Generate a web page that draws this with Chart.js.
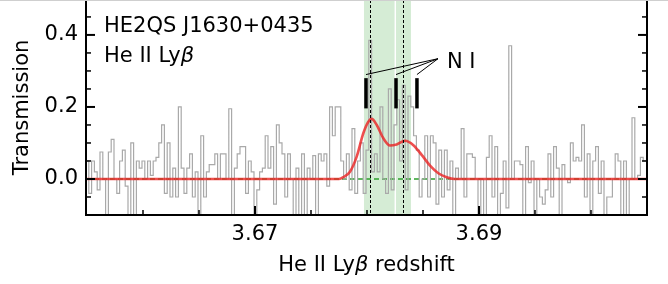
<!DOCTYPE html>
<html>
<head>
<meta charset="utf-8">
<script src="https://cdn.jsdelivr.net/npm/chart.js@4/dist/chart.umd.min.js"></script>
<style>
  html, body { margin: 0; padding: 0; background: #fff; }
  #wrap { width: 668px; height: 284px; position: relative; }
</style>
</head>
<body>
<div id="wrap"><canvas id="c"></canvas></div>
<script>
// spectrum binning (redshift of first bin edge, bin width)
const zStart = 3.654911;
const binWidth = 0.00025;

const transmission = [
  0.05, -0.04, 0.05, 0.02, -0.03, 0.075, 0.0, -0.1, 0.075, 0.11,
  0.0, -0.04, 0.05, 0.08, -0.02, -0.1, 0.1, -0.1, 0.05, 0.03,
  0.05, 0.0, 0.05, 0.01, 0.05, 0.06, 0.1, 0.15, -0.04, 0.1,
  -0.05, 0.03, -0.05, 0.2, 0.03, -0.04, 0.03, 0.07, -0.05, 0.02,
  -0.1, 0.12, -0.05, 0.02, 0.04, 0.04, 0.07, 0.0, 0.07, 0.07,
  0.0, 0.195, -0.1, 0.03, 0.07, 0.09, 0.09, -0.04, 0.05, 0.02,
  -0.1, -0.03, 0.02, 0.03, 0.12, 0.03, 0.09, -0.07, 0.15, 0.1,
  0.07, -0.05, 0.07, 0.0, -0.1, 0.03, -0.1, 0.07, -0.1, 0.03,
  0.0, 0.065, -0.1, 0.07, 0.05, 0.07, -0.02, 0.2, 0.12, 0.2,
  0.2, 0.05, 0.0, 0.07, -0.03, 0.14, -0.04, 0.05, 0.1, -0.04,
  0.08, 0.385, 0.02, 0.07, 0.02, 0.2, 0.0, -0.04, 0.25, -0.03,
  0.15, 0.22, 0.05, 0.26, -0.03, 0.23, 0.2, 0.12, 0.08, -0.05,
  0.0, 0.12, -0.05, 0.12, 0.1, -0.07, 0.08, -0.05, 0.08, -0.03,
  0.05, -0.1, 0.03, 0.0, 0.14, -0.05, 0.07, 0.07, 0.06, 0.0,
  -0.1, 0.0, -0.1, 0.06, 0.12, -0.05, 0.09, -0.1, -0.04, 0.05,
  -0.08, 0.37, 0.0, 0.05, 0.05, 0.04, -0.1, 0.09, -0.01, 0.05,
  -0.1, 0.0, -0.05, -0.07, -0.03, 0.07, -0.05, 0.09, 0.03, -0.1,
  0.04, 0.0, -0.01, 0.1, 0.05, 0.06, 0.05, 0.15, -0.05, 0.07,
  -0.1, 0.05, 0.09, -0.04, 0.05, -0.1, -0.05, -0.05, 0.0, 0.07,
  0.05, -0.1, 0.05, -0.1, 0.0, 0.17, 0.0, 0.01, 0.06, 0.05
];

// model curve
const modelZ = [3.6549, 3.6775, 3.67789, 3.67848, 3.67908, 3.67967, 3.68012, 3.68042, 3.68087,
  3.68146, 3.68205, 3.68265, 3.68339, 3.68414, 3.68488, 3.68563, 3.68637, 3.68711, 3.68786, 3.705];
const modelT = [0, 0, 0.005, 0.02, 0.062, 0.127, 0.159, 0.167, 0.15,
  0.113, 0.093, 0.096, 0.106, 0.094, 0.067, 0.037, 0.016, 0.005, 0, 0];

// shaded windows, line positions, N I marks
const spans = [[3.67973, 3.68246], [3.68259, 3.68393]];
const lineZ = [3.68027, 3.68321];
const niZ = [3.67991, 3.68259, 3.68446];

const xTicks = [3.67, 3.69];
const xMinor = [3.66, 3.665, 3.675, 3.68, 3.685, 3.695, 3.70];
const yTicks = [0.0, 0.2, 0.4];
const yMinor = [-0.05, 0.05, 0.1, 0.15, 0.25, 0.3, 0.35, 0.45];

const FONT = "'DejaVu Sans', sans-serif";
const FS = 21;

const histPts = transmission.map((v, i) => ({ x: zStart + i * binWidth, y: v }));
histPts.push({ x: zStart + transmission.length * binWidth, y: transmission[transmission.length - 1] });
const modelPts = modelZ.map((z, i) => ({ x: z, y: modelT[i] }));

// draw a run of [text, italic] pieces starting at x
function drawPieces(ctx, pieces, x, y) {
  pieces.forEach(([t, it]) => {
    ctx.font = (it ? 'italic ' : '') + FS + 'px ' + FONT;
    ctx.fillText(t, x, y);
    x += ctx.measureText(t).width;
  });
}
function piecesWidth(ctx, pieces) {
  let w = 0;
  pieces.forEach(([t, it]) => {
    ctx.font = (it ? 'italic ' : '') + FS + 'px ' + FONT;
    w += ctx.measureText(t).width;
  });
  return w;
}

const noPad = axis => {
  axis.paddingTop = 0;
  axis.paddingBottom = 0;
  axis.paddingLeft = 0;
  axis.paddingRight = 0;
};

const decor = {
  id: 'decor',
  beforeDatasetsDraw(chart) {
    const { ctx, chartArea: a, scales: { x, y } } = chart;
    ctx.save();
    ctx.fillStyle = 'rgba(44,160,44,0.2)';
    spans.forEach(([z0, z1]) => {
      const p0 = x.getPixelForValue(z0), p1 = x.getPixelForValue(z1);
      ctx.fillRect(p0, a.top, p1 - p0, a.bottom - a.top);
    });
    ctx.strokeStyle = '#2ca02c';
    ctx.lineWidth = 1.5;
    ctx.setLineDash([5, 3]);
    const y0 = y.getPixelForValue(0);
    ctx.beginPath();
    ctx.moveTo(a.left, y0);
    ctx.lineTo(a.right, y0);
    ctx.stroke();
    ctx.restore();
  },
  afterDatasetsDraw(chart) {
    const { ctx, chartArea: a, scales: { x, y } } = chart;
    ctx.save();

    // dashed vertical lines
    ctx.strokeStyle = '#000';
    ctx.lineWidth = 1;
    ctx.setLineDash([3, 2]);
    lineZ.forEach(z => {
      const px = Math.round(x.getPixelForValue(z)) + 0.5;
      ctx.beginPath();
      ctx.moveTo(px, a.top);
      ctx.lineTo(px, a.bottom);
      ctx.stroke();
    });
    ctx.setLineDash([]);

    // N I bars and pointer lines
    ctx.lineWidth = 3.5;
    niZ.forEach(z => {
      const px = x.getPixelForValue(z);
      ctx.beginPath();
      ctx.moveTo(px, y.getPixelForValue(0.196));
      ctx.lineTo(px, y.getPixelForValue(0.28));
      ctx.stroke();
    });
    ctx.lineWidth = 1;
    const ax = x.getPixelForValue(3.68634), ay = y.getPixelForValue(0.334);
    niZ.forEach(z => {
      ctx.beginPath();
      ctx.moveTo(ax, ay);
      ctx.lineTo(x.getPixelForValue(z), y.getPixelForValue(0.29));
      ctx.stroke();
    });
    ctx.fillStyle = '#000';
    ctx.textBaseline = 'middle';
    ctx.textAlign = 'left';
    ctx.font = FS + 'px ' + FONT;
    ctx.fillText('N I', x.getPixelForValue(3.68714), y.getPixelForValue(0.322));

    // labels in the corner
    ctx.fillText('HE2QS J1630+0435', a.left + 18, 27);
    drawPieces(ctx, [['He II Ly', false], ['β', true]], a.left + 18, 57);

    // axis titles
    const xl = [['He II Ly', false], ['β', true], [' redshift', false]];
    const xw = piecesWidth(ctx, xl);
    drawPieces(ctx, xl, (a.left + a.right) / 2 - xw / 2, 266);
    ctx.save();
    ctx.translate(23, (a.top + a.bottom) / 2);
    ctx.rotate(-Math.PI / 2);
    ctx.textAlign = 'center';
    ctx.font = FS + 'px ' + FONT;
    ctx.fillText('Transmission', 0, 0);
    ctx.restore();

    // spines
    ctx.strokeStyle = '#000';
    ctx.lineWidth = 2;
    ctx.beginPath();
    ctx.moveTo(a.left, a.top);
    ctx.lineTo(a.left, a.bottom);
    ctx.lineTo(a.right, a.bottom);
    ctx.lineTo(a.right, a.top);
    ctx.stroke();
    ctx.strokeStyle = '#cfcfcf';
    ctx.lineWidth = 1;
    ctx.beginPath();
    ctx.moveTo(0, 0.5);
    ctx.lineTo(chart.width, 0.5);
    ctx.stroke();

    // inward ticks
    ctx.strokeStyle = '#000';
    const tick = (x1, y1, x2, y2, w) => {
      ctx.lineWidth = w;
      ctx.beginPath();
      ctx.moveTo(x1, y1);
      ctx.lineTo(x2, y2);
      ctx.stroke();
    };
    yTicks.forEach(v => {
      const py = y.getPixelForValue(v);
      tick(a.left, py, a.left + 9, py, 2);
      tick(a.right, py, a.right - 9, py, 2);
    });
    yMinor.forEach(v => {
      const py = y.getPixelForValue(v);
      tick(a.left, py, a.left + 5, py, 1.5);
      tick(a.right, py, a.right - 5, py, 1.5);
    });
    xTicks.forEach(v => {
      const px = x.getPixelForValue(v);
      tick(px, a.bottom, px, a.bottom - 9, 2);
    });
    xMinor.forEach(v => {
      const px = x.getPixelForValue(v);
      tick(px, a.bottom, px, a.bottom - 5, 1.5);
    });
    ctx.restore();
  }
};

new Chart(document.getElementById('c'), {
  type: 'line',
  data: {
    datasets: [
      {
        label: 'model',
        data: modelPts,
        borderColor: 'rgba(235,35,35,0.8)',
        borderWidth: 2.6,
        pointRadius: 0,
        cubicInterpolationMode: 'monotone',
        fill: false,
        order: 0
      },
      {
        label: 'spectrum',
        data: histPts,
        borderColor: '#a9a9a9',
        borderWidth: 1.2,
        pointRadius: 0,
        stepped: 'before',
        fill: false,
        order: 1
      }
    ]
  },
  options: {
    responsive: true,
    maintainAspectRatio: false,
    animation: false,
    events: [],
    layout: { padding: { left: 0, right: 21, top: 0, bottom: 0 } },
    plugins: { legend: { display: false }, tooltip: { enabled: false }, title: { display: false } },
    scales: {
      x: {
        type: 'linear',
        min: 3.654911,
        max: 3.705,
        grid: { display: false, drawTicks: false },
        border: { display: false },
        afterBuildTicks: axis => { axis.ticks = xTicks.map(v => ({ value: v })); },
        afterFit: axis => { axis.height = 69; noPad(axis); },
        ticks: {
          autoSkip: false,
          maxRotation: 0,
          padding: 7,
          color: '#000',
          font: { family: FONT, size: FS },
          callback: v => v.toFixed(2)
        }
      },
      y: {
        type: 'linear',
        min: -0.1,
        max: 0.497,
        grid: { display: false, drawTicks: false },
        border: { display: false },
        afterBuildTicks: axis => { axis.ticks = yTicks.map(v => ({ value: v })); },
        afterFit: axis => { axis.width = 86; noPad(axis); },
        ticks: {
          autoSkip: false,
          padding: 8,
          color: '#000',
          font: { family: FONT, size: FS },
          callback: v => v.toFixed(1)
        }
      }
    }
  },
  plugins: [decor]
});
</script>
</body>
</html>
